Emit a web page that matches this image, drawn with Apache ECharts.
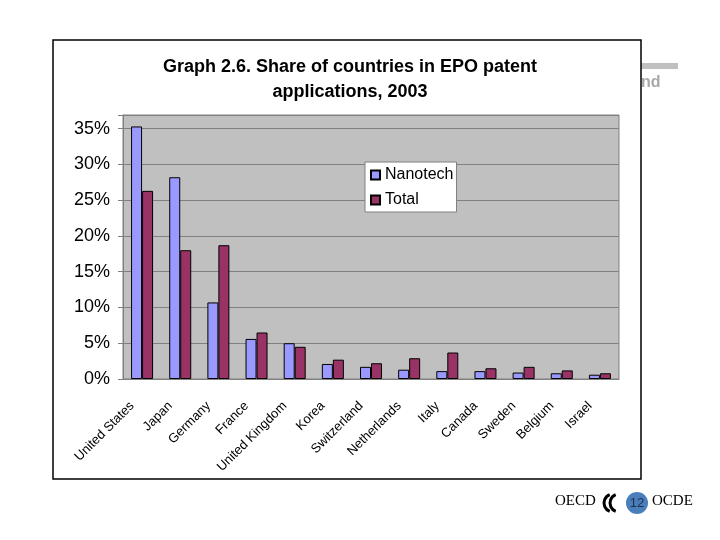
<!DOCTYPE html>
<html>
<head>
<meta charset="utf-8">
<script src="https://cdn.jsdelivr.net/npm/echarts@6/dist/echarts.min.js"></script>
<style>html,body{margin:0;padding:0;background:#fff}#c{width:720px;height:540px}</style>
</head>
<body>
<div id="c"></div>
<script>
const categories = ['United States','Japan','Germany','France','United Kingdom','Korea','Switzerland','Netherlands','Italy','Canada','Sweden','Belgium','Israel'];
const nanotech = [0.353,0.282,0.107,0.056,0.050,0.021,0.017,0.013,0.011,0.011,0.009,0.008,0.006];
const total    = [0.263,0.180,0.187,0.065,0.045,0.027,0.022,0.029,0.037,0.015,0.017,0.012,0.008];
const seriesNames = ['Nanotech','Total'];
const titleText = 'Graph 2.6. Share of countries in EPO patent\napplications, 2003';

const chart = echarts.init(document.getElementById('c'));
const FONT = 'Liberation Sans, Arial, sans-serif';
chart.setOption({
  animation: false,
  backgroundColor: '#ffffff',
  title: {
    text: titleText, left: 350, top: 55, textAlign: 'center', padding: 0,
    textStyle: {fontFamily: FONT, fontSize: 18, fontWeight: 'bold', color: '#000', lineHeight: 25}
  },
  legend: {
    orient: 'vertical', left: 365, top: 162, icon: 'rect',
    itemWidth: 9, itemHeight: 9, itemGap: 9,
    backgroundColor: '#fff', borderColor: '#808080', borderWidth: 1, borderRadius: 0,
    padding: [5, 3, 4, 5],
    textStyle: {fontFamily: FONT, fontSize: 16, color: '#000'},
    data: seriesNames
  },
  grid: {
    left: 123, right: 101, top: 115, bottom: 161,
    show: true, backgroundColor: '#C0C0C0', borderColor: '#808080', borderWidth: 1
  },
  xAxis: {
    type: 'category', data: categories,
    axisLine: {lineStyle: {color: '#808080'}},
    axisTick: {length: 4, lineStyle: {color: '#808080'}},
    axisLabel: {rotate: 45, interval: 0, fontFamily: FONT, fontSize: 13, color: '#000', margin: 15, padding: [0, 14, 0, 0]}
  },
  yAxis: {
    type: 'value', min: 0, max: 0.369, interval: 0.05,
    axisLine: {show: true, lineStyle: {color: '#808080'}},
    axisTick: {show: true, length: 5, lineStyle: {color: '#808080'}},
    splitLine: {lineStyle: {color: '#808080', width: 1}},
    axisLabel: {
      fontFamily: FONT, fontSize: 18, color: '#000', margin: 13,
      formatter: function (v) {
        const k = v / 0.05;
        return Math.abs(k - Math.round(k)) < 1e-6 ? Math.round(v * 100) + '%' : '';
      }
    }
  },
  series: [
    {name: seriesNames[0], type: 'bar', data: nanotech, barWidth: 11, barGap: '0%',
     itemStyle: {color: '#9999FF', borderColor: '#000', borderWidth: 1}},
    {name: seriesNames[1], type: 'bar', data: total, barWidth: 11, barGap: '0%',
     itemStyle: {color: '#993366', borderColor: '#000', borderWidth: 1}}
  ],
  graphic: [
    {type: 'rect', shape: {x: 641, y: 63, width: 37, height: 6}, style: {fill: '#C0C0C0'}, z: -1},
    {type: 'text', left: 641, top: 75, style: {text: 'nd', fill: '#A8A8A8', font: 'bold 16px Liberation Sans, Arial, sans-serif'}, z: -1},
    {type: 'rect', shape: {x: 53, y: 40, width: 588, height: 439}, style: {fill: 'none', stroke: '#000', lineWidth: 1.5}, z: 10},
    {type: 'text', left: 555, top: 494, style: {text: 'OECD', fill: '#000', font: '15px Liberation Serif, Times New Roman, serif'}},
    {type: 'arc', shape: {cx: 613, cy: 503, r: 9, startAngle: Math.PI * 0.62, endAngle: Math.PI * 1.38}, style: {stroke: '#000', lineWidth: 3, fill: 'none'}},
    {type: 'arc', shape: {cx: 619, cy: 503, r: 9, startAngle: Math.PI * 0.62, endAngle: Math.PI * 1.38}, style: {stroke: '#000', lineWidth: 3, fill: 'none'}},
    {type: 'circle', shape: {cx: 637, cy: 503, r: 11}, style: {fill: '#4A7EBB'}},
    {type: 'text', x: 637, y: 503, style: {text: '12', fill: '#1F2F4F', font: '13px Liberation Sans, Arial, sans-serif', align: 'center', verticalAlign: 'middle'}},
    {type: 'text', left: 652, top: 494, style: {text: 'OCDE', fill: '#000', font: '15px Liberation Serif, Times New Roman, serif'}}
  ]
});
</script>
</body>
</html>
